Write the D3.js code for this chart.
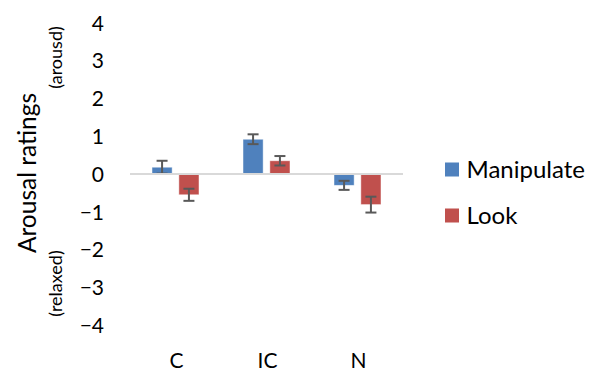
<!DOCTYPE html>
<html><head><meta charset="utf-8">
<script src="https://cdn.jsdelivr.net/npm/d3@7"></script>
<style>body{margin:0;background:#fff}svg{display:block}text{font-family:Lato,"Open Sans",sans-serif;fill:#000}</style>
</head><body><svg id="c" width="589" height="372"></svg>
<script>
const categories = ["C", "IC", "N"];
const seriesNames = ["Manipulate", "Look"];
const manipulate = [0.18, 0.92, -0.30];
const look = [-0.55, 0.35, -0.81];
const manipulateErr = [0.17, 0.13, 0.12];
const lookErr = [0.16, 0.125, 0.21];
const yTicks = [4, 3, 2, 1, 0, -1, -2, -3, -4];
const colors = ["#4F81BD", "#C0504D"];

const svg = d3.select("#c");
const x0 = d3.scaleBand().domain(categories).range([130, 403]);
const x1 = d3.scaleBand().domain(seriesNames).range([22, 69]).paddingInner(0.25);
const y = d3.scaleLinear().domain([-4, 4]).range([325.2, 22.8]);

const data = categories.map((c, i) => ({
  cat: c,
  vals: [
    {s: seriesNames[0], v: manipulate[i], e: manipulateErr[i], col: colors[0]},
    {s: seriesNames[1], v: look[i], e: lookErr[i], col: colors[1]}
  ]
}));

// y axis labels (no line)
const yAxis = d3.axisLeft(y).tickValues(yTicks).tickSize(0).tickPadding(0)
  .tickFormat(d => d < 0 ? "\u2212" + Math.abs(d) : d);
const ya = svg.append("g").attr("transform", "translate(104,0)").call(yAxis);
ya.select(".domain").remove();
ya.selectAll("text").attr("font-size", 21).attr("font-family", "Lato").attr("fill", "#000").attr("dy", "0.35em");

// bars
const g = svg.append("g");
const groups = g.selectAll("g.cat").data(data).join("g")
  .attr("transform", d => `translate(${x0(d.cat)},0)`);
groups.selectAll("rect").data(d => d.vals).join("rect")
  .attr("x", d => x1(d.s))
  .attr("width", x1.bandwidth())
  .attr("y", d => y(Math.max(0, d.v)))
  .attr("height", d => Math.abs(y(d.v) - y(0)))
  .attr("fill", d => d.col)
  .attr("stroke", "#ffffff").attr("stroke-opacity", 0.6).attr("stroke-width", 0.8);

// zero line
svg.append("line").attr("x1", 130).attr("x2", 403).attr("y1", y(0)).attr("y2", y(0))
  .attr("stroke", "#D9D9D9").attr("stroke-width", 2);

// error bars
const eb = groups.selectAll("g.err").data(d => d.vals).join("g").attr("class", "err")
  .attr("stroke", "#595959").attr("stroke-width", 2);
eb.append("line")
  .attr("x1", d => x1(d.s) + x1.bandwidth() / 2).attr("x2", d => x1(d.s) + x1.bandwidth() / 2)
  .attr("y1", d => y(d.v + d.e)).attr("y2", d => y(d.v - d.e));
[1, -1].forEach(sg => {
  eb.append("line")
    .attr("x1", d => x1(d.s) + x1.bandwidth() / 2 - 5.5).attr("x2", d => x1(d.s) + x1.bandwidth() / 2 + 5.5)
    .attr("y1", d => y(d.v + sg * d.e)).attr("y2", d => y(d.v + sg * d.e));
});

// x labels
const xAxis = d3.axisBottom(x0).tickSize(0).tickPadding(0);
const xa = svg.append("g").attr("transform", "translate(1,361)").call(xAxis);
xa.select(".domain").remove();
xa.selectAll("text").attr("font-size", 21).attr("font-family", "Lato").attr("fill", "#000").attr("dy", "0.35em");

// axis titles
svg.append("text").attr("transform", "translate(27,173) rotate(-90)")
  .attr("text-anchor", "middle").attr("dy", "0.35em").attr("font-size", 24.5).text("Arousal ratings");
svg.append("text").attr("transform", "translate(56,57.5) rotate(-90)")
  .attr("text-anchor", "middle").attr("dy", "0.35em").attr("font-size", 18).text("(arousd)");
svg.append("text").attr("transform", "translate(56,283.5) rotate(-90)")
  .attr("text-anchor", "middle").attr("dy", "0.35em").attr("font-size", 18).text("(relaxed)");

// legend
const lg = svg.append("g").selectAll("g").data(seriesNames).join("g")
  .attr("transform", (d, i) => `translate(445,${169.5 + i * 46})`);
lg.append("rect").attr("x", 0).attr("y", -7).attr("width", 14).attr("height", 14)
  .attr("fill", (d, i) => colors[i]);
lg.append("text").attr("x", 21.5).attr("dy", "0.35em").attr("font-size", 24).text(d => d);
</script></body></html>
